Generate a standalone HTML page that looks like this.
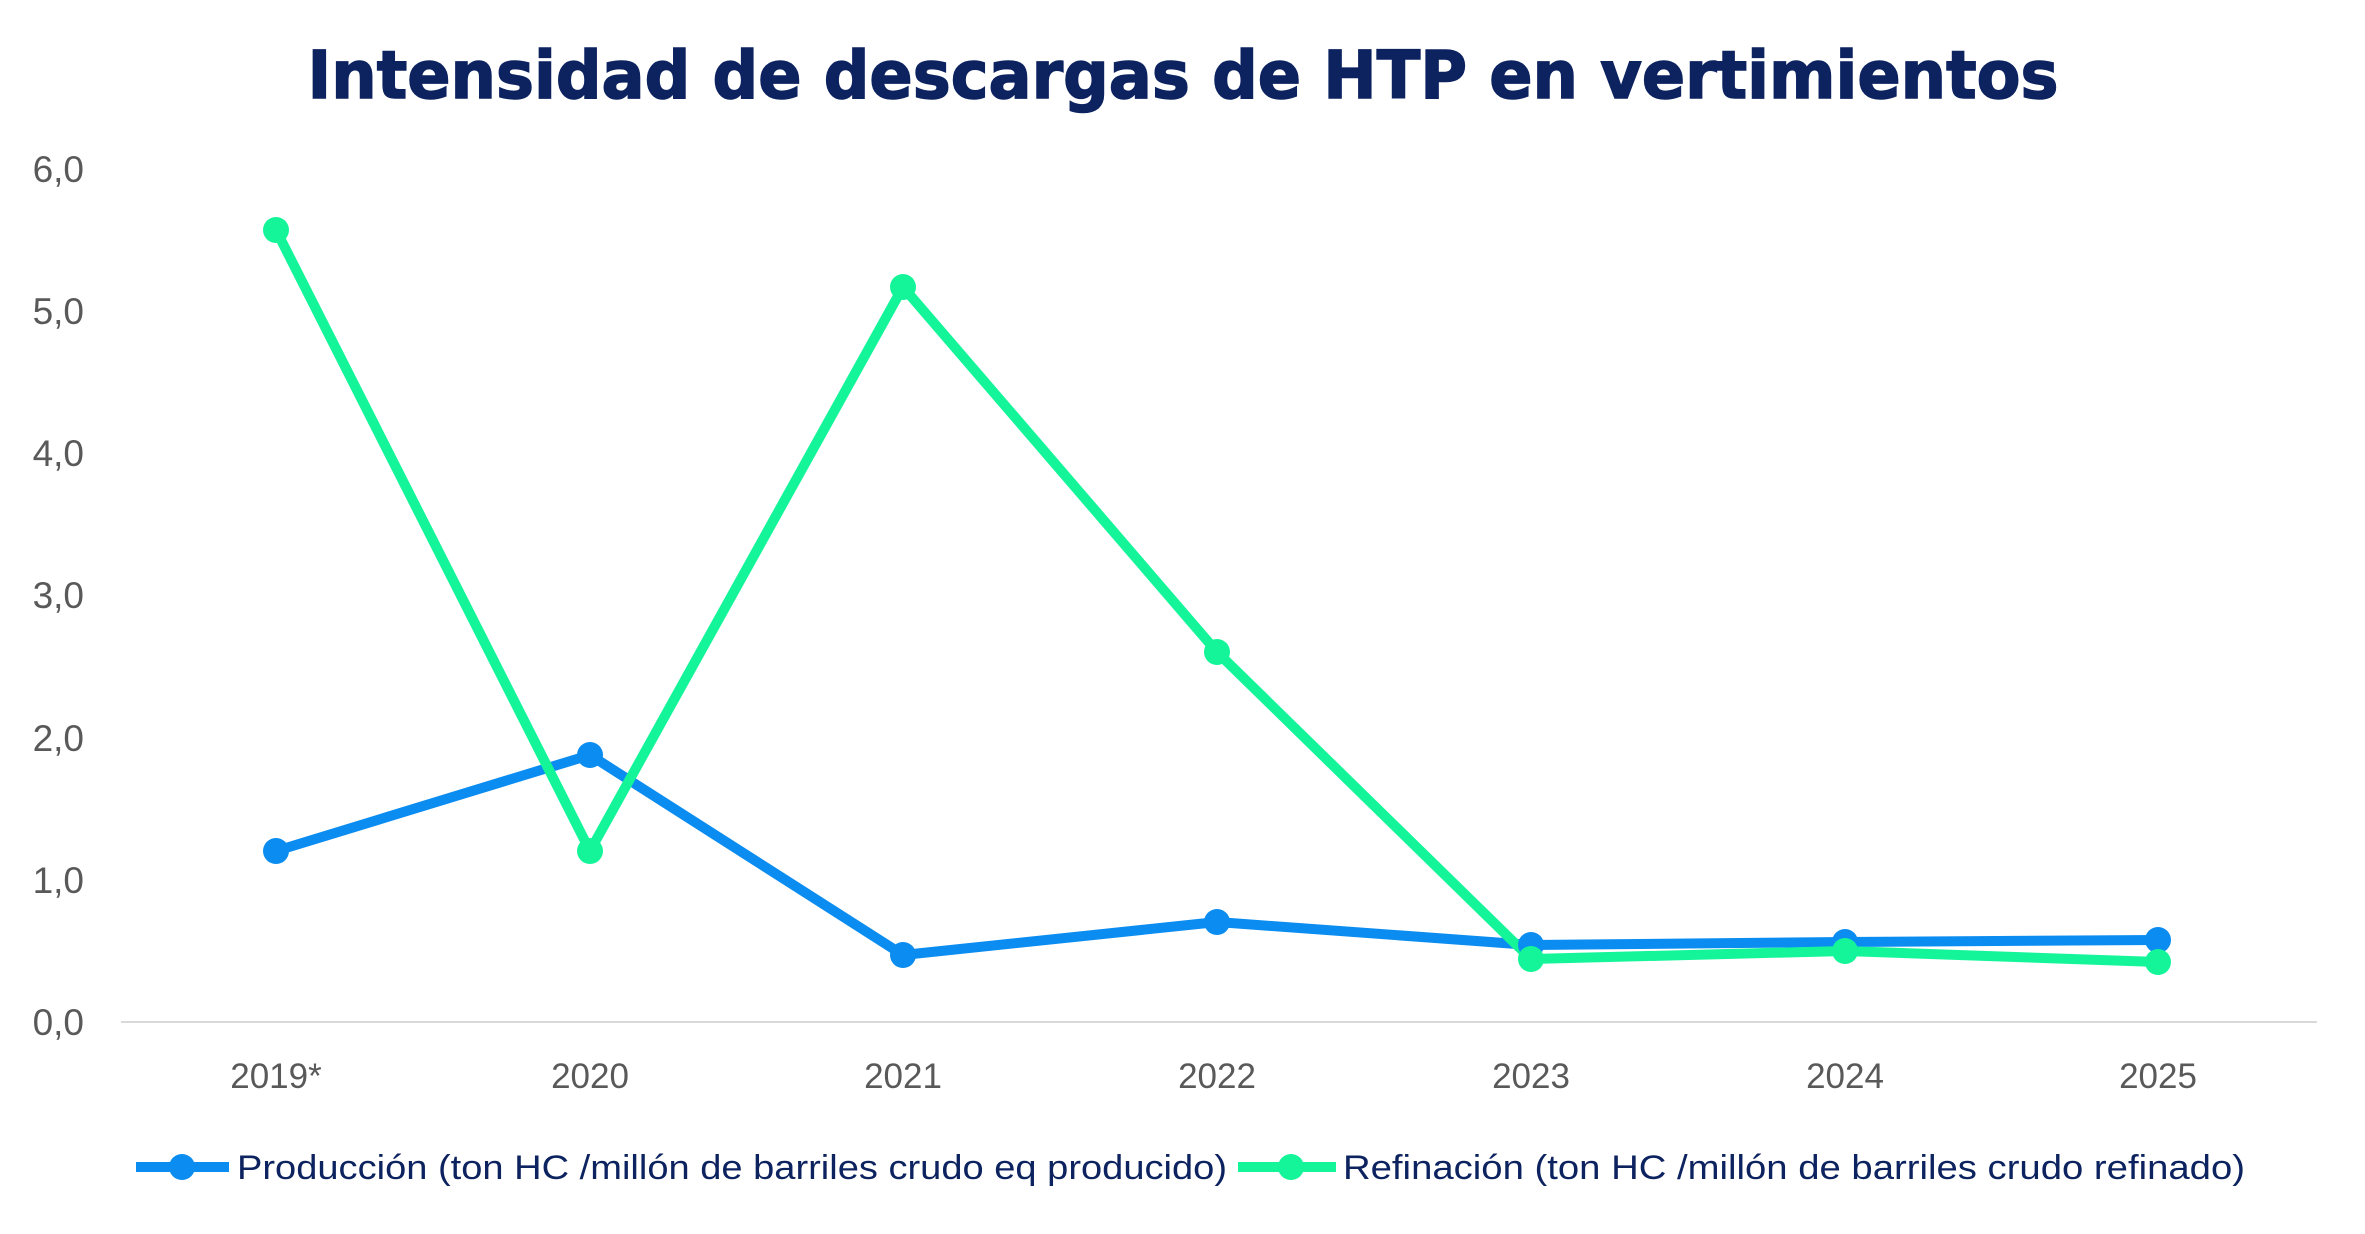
<!DOCTYPE html>
<html><head><meta charset="utf-8"><style>
html,body{margin:0;padding:0;background:#fff;}
svg{display:block;}
</style></head><body>
<svg width="2365" height="1234" viewBox="0 0 2365 1234" xmlns="http://www.w3.org/2000/svg">
<rect width="2365" height="1234" fill="#fff"/>
<text x="1183" y="98" text-anchor="middle" font-family="DejaVu Sans, Liberation Sans, sans-serif" font-weight="bold" font-size="66" fill="#0d2360" stroke="#0d2360" stroke-width="1.5" textLength="1751" lengthAdjust="spacingAndGlyphs">Intensidad de descargas de HTP en vertimientos</text>
<g font-family="Liberation Sans, sans-serif" font-size="37" fill="#595959" text-anchor="end">
<text x="84" y="1035">0,0</text>
<text x="84" y="893">1,0</text>
<text x="84" y="751">2,0</text>
<text x="84" y="608">3,0</text>
<text x="84" y="466">4,0</text>
<text x="84" y="324">5,0</text>
<text x="84" y="182">6,0</text>
</g>
<line x1="121" y1="1022" x2="2317" y2="1022" stroke="#d9d9d9" stroke-width="2"/>
<g font-family="Liberation Sans, sans-serif" font-size="35" fill="#595959" text-anchor="middle">
<text x="276" y="1088">2019*</text>
<text x="590" y="1088">2020</text>
<text x="903" y="1088">2021</text>
<text x="1217" y="1088">2022</text>
<text x="1531" y="1088">2023</text>
<text x="1845" y="1088">2024</text>
<text x="2158" y="1088">2025</text>
</g>
<g fill="none" stroke-width="10" stroke-linejoin="round">
<polyline stroke="#0a8cf0" points="276,851 590,755 903,955 1217,922 1531,945 1845,942 2158,940"/>
<polyline stroke="#14f59a" points="276,230 590,851 903,287 1217,652 1531,959 1845,951 2158,962"/>
</g>
<g fill="#0a8cf0">
<circle cx="276" cy="851" r="13"/><circle cx="590" cy="755" r="13"/><circle cx="903" cy="955" r="13"/><circle cx="1217" cy="922" r="13"/><circle cx="1531" cy="945" r="13"/><circle cx="1845" cy="942" r="13"/><circle cx="2158" cy="940" r="13"/>
</g>
<g fill="#14f59a">
<circle cx="276" cy="230" r="13"/><circle cx="590" cy="851" r="13"/><circle cx="903" cy="287" r="13"/><circle cx="1217" cy="652" r="13"/><circle cx="1531" cy="959" r="13"/><circle cx="1845" cy="951" r="13"/><circle cx="2158" cy="962" r="13"/>
</g>
<line x1="136" y1="1167" x2="229" y2="1167" stroke="#0a8cf0" stroke-width="10"/>
<circle cx="182" cy="1167" r="13" fill="#0a8cf0"/>
<line x1="1238" y1="1167" x2="1336" y2="1167" stroke="#14f59a" stroke-width="10"/>
<circle cx="1291" cy="1167" r="13" fill="#14f59a"/>
<g font-family="Liberation Sans, sans-serif" font-size="34" fill="#0d2360">
<text x="237" y="1179" textLength="990" lengthAdjust="spacingAndGlyphs">Producción (ton HC /millón de barriles crudo eq producido)</text>
<text x="1343" y="1179" textLength="902" lengthAdjust="spacingAndGlyphs">Refinación (ton HC /millón de barriles crudo refinado)</text>
</g>
</svg>
</body></html>
